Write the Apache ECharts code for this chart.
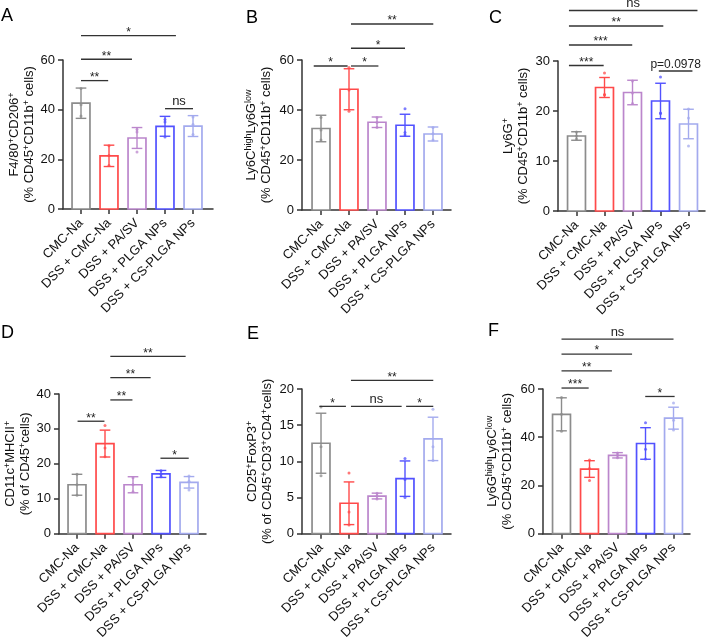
<!DOCTYPE html>
<html><head><meta charset="utf-8">
<script src="https://cdn.jsdelivr.net/npm/echarts@6/dist/echarts.min.js"></script>
<style>html,body{margin:0;padding:0;background:#fff}#c{width:708px;height:642px}</style>
</head><body><div id="c"></div>
<script>
// ---------- DATA ----------
const categories = ['CMC-Na', 'DSS + CMC-Na', 'DSS + PA/SV', 'DSS + PLGA NPs', 'DSS + CS-PLGA NPs'];
const groupColors = ['#8c8c8c', '#ff4a4a', '#bb86cc', '#5252ff', '#a3aaee'];

// Panel A
const meanA = [42.6, 21.4, 28.6, 33.3, 33.4];
const sdA   = [6.1, 4.3, 4.2, 4.0, 4.2];
const dotsA = [[48.5, 42, 37.5], [25.5, 21.5, 17.5], [32, 31, 23], [36, 35, 29], [37, 34, 30]];
const sigA  = [[0, 0.97, 51.7, '**'], [0, 1.82, 60.3, '**'], [0, 3.39, 69.8, '*'], [3.0, 4.0, 40.4, 'ns']];
const yTicksA = [0, 20, 40, 60];

// Panel B
const meanB = [32.6, 48.3, 35.1, 33.9, 30.4];
const sdB   = [5.3, 8.2, 2.1, 4.4, 2.8];
const dotsB = [[37, 32, 28], [57, 48, 39.5], [37, 35, 33], [40.5, 31, 30], [33, 30.5, 28]];
const sigB  = [[-0.26, 0.95, 57.6, '*'], [1.07, 2.05, 57.6, '*'], [1.07, 3.0, 64.7, '*'], [1.07, 4.01, 74.4, '**']];
const yTicksB = [0, 20, 40, 60];

// Panel C
const meanC = [15.0, 24.7, 23.7, 22.0, 17.4];
const sdC   = [0.85, 2.0, 2.45, 3.55, 2.95];
const dotsC = [[15.8, 15, 14.4], [27.6, 23.3, 23.2], [26, 23.6, 21.5], [26.8, 19.5, 19.6], [20.4, 18.6, 13]];
const sigC  = [[-0.27, 0.97, 29.1, '***'], [-0.27, 1.99, 33.2, '***'], [-0.27, 3.1, 37.0, '**'], [-0.27, 4.32, 40.1, 'ns'], [2.94, 4.14, 28.0, 'p=0.0978']];
const yTicksC = [0, 10, 20, 30];

// Panel D
const meanD = [14.0, 25.8, 14.0, 17.1, 14.7];
const sdD   = [3.0, 3.85, 2.3, 1.0, 1.65];
const dotsD = [[17, 14, 11], [31, 24.5, 22], [16, 14, 12], [18, 17, 16.3], [16.5, 15, 12.5]];
const sigD  = [[0.02, 0.98, 32.2, '**'], [1.19, 1.98, 38.3, '**'], [1.19, 2.63, 44.7, '**'], [1.19, 3.88, 50.8, '**'], [2.98, 3.99, 21.6, '*']];
const yTicksD = [0, 10, 20, 30, 40];

// Panel E
const meanE = [12.5, 4.2, 5.2, 7.6, 13.1];
const sdE   = [4.15, 2.95, 0.4, 2.45, 3.0];
const dotsE = [[17.5, 12, 8], [8.4, 3, 1.2], [5.6, 5.2, 4.8], [10.4, 7.5, 5], [17.2, 12, 10.1]];
const sigE  = [[-0.06, 0.89, 17.6, '*'], [1.07, 2.88, 17.6, 'ns'], [3.04, 4.01, 17.6, '*'], [1.07, 4.01, 21.2, '**']];
const yTicksE = [0, 5, 10, 15, 20];

// Panel F
const meanF = [49.5, 26.8, 32.5, 37.4, 47.9];
const sdF   = [6.85, 3.45, 1.1, 6.55, 4.55];
const dotsF = [[56.5, 49.5, 42.5], [30.5, 27, 22], [33.5, 32.5, 31.5], [46, 35, 31], [54.2, 47, 43]];
const sigF  = [[0, 0.97, 60.4, '***'], [0, 1.8, 67.5, '**'], [0, 2.52, 74.5, '*'], [0, 4.0, 80.7, 'ns'], [2.99, 4.04, 56.9, '*']];
const yTicksF = [0, 20, 40, 60];

const titles = {
  A: 'F4/80{s|+}CD206{s|+}\n(% CD45{s|+}CD11b{s|+} cells)',
  B: 'Ly6C{s|high}Ly6G{s|low}\n(% CD45{s|+}CD11b{s|+} cells)',
  C: 'Ly6G{s|+}\n(% CD45{s|+}CD11b{s|+} cells)',
  D: 'CD11c{s|+}MHCII{s|+}\n(% of CD45{s|+}cells)',
  E: 'CD25{s|+}FoxP3{s|+}\n(% of CD45{s|+}CD3{s|+}CD4{s|+}cells)',
  F: 'Ly6G{s|high}Ly6C{s|low}\n(% CD45{s|+}CD11b{s|+} cells)'
};

// ---------- LAYOUT ----------
const FONT = "'Liberation Sans', Arial, sans-serif";
const panels = [
  {key: 'A', mean: meanA, sd: sdA, dots: dotsA, sig: sigA, ticks: yTicksA, left: 63, top: 60, width: 150, height: 149, xmin: -0.643, xmax: 4.714, gap: 26, letter: [1, 7]},
  {key: 'B', mean: meanB, sd: sdB, dots: dotsB, sig: sigB, ticks: yTicksB, left: 302, top: 60, width: 149, height: 150, xmin: -0.679, xmax: 4.643, gap: 28, letter: [246, 9]},
  {key: 'C', mean: meanC, sd: sdC, dots: dotsC, sig: sigC, ticks: yTicksC, left: 558, top: 61, width: 147, height: 150, xmin: -0.661, xmax: 4.589, gap: 27, letter: [489, 9]},
  {key: 'D', mean: meanD, sd: sdD, dots: dotsD, sig: sigD, ticks: yTicksD, left: 59, top: 394, width: 147, height: 146, xmin: -0.643, xmax: 4.607, gap: 26, letter: [1, 324]},
  {key: 'E', mean: meanE, sd: sdE, dots: dotsE, sig: sigE, ticks: yTicksE, left: 302, top: 389, width: 149, height: 150, xmin: -0.679, xmax: 4.643, gap: 27, letter: [247, 325]},
  {key: 'F', mean: meanF, sd: sdF, dots: dotsF, sig: sigF, ticks: yTicksF, left: 543, top: 389, width: 147, height: 150, xmin: -0.661, xmax: 4.589, gap: 28, letter: [488, 322]}
];

const AXIS_COLOR = '#333';
const grid = [], xAxis = [], yAxis = [], series = [], graphic = [];

panels.forEach((p, k) => {
  grid.push({left: p.left, top: p.top, width: p.width, height: p.height, containLabel: false});
  xAxis.push({
    type: 'value', gridIndex: k, min: p.xmin, max: p.xmax,
    splitLine: {show: false},
    axisLine: {show: true, onZero: false, lineStyle: {color: AXIS_COLOR, width: 1.5}},
    axisTick: {show: true, length: 5, customValues: [0, 1, 2, 3, 4], lineStyle: {color: AXIS_COLOR, width: 1.5}},
    axisLabel: {
      show: true, rotate: 45, margin: 12, fontSize: 13, color: '#111', fontFamily: FONT,
      customValues: [0, 1, 2, 3, 4],
      formatter: v => categories[Math.round(v)]
    }
  });
  const t = p.ticks;
  yAxis.push({
    type: 'value', gridIndex: k, min: t[0], max: t[t.length - 1], interval: t[1] - t[0],
    splitLine: {show: false},
    axisLine: {show: true, onZero: false, lineStyle: {color: AXIS_COLOR, width: 1.5}},
    axisTick: {show: true, length: 5, lineStyle: {color: AXIS_COLOR, width: 1.5}},
    axisLabel: {margin: 8, fontSize: 13, color: '#111', fontFamily: FONT},
    name: titles[p.key], nameLocation: 'middle', nameRotate: 90, nameGap: p.gap,
    nameMoveOverlap: false,
    nameTextStyle: {
      fontSize: 13, color: '#111', fontFamily: FONT, lineHeight: 15,
      rich: {s: {fontSize: 9, lineHeight: 7, verticalAlign: 'top', color: '#111', fontFamily: FONT}}
    }
  });

  // bars + error bars
  series.push({
    type: 'custom', xAxisIndex: k, yAxisIndex: k, clip: false,
    data: p.mean.map((m, i) => [i, m, p.sd[i]]),
    encode: {x: 0, y: 1},
    renderItem: (params, api) => {
      const i = api.value(0), m = api.value(1), sd = api.value(2);
      const base = api.coord([i, 0]);
      const top = api.coord([i, m]);
      const hi = api.coord([i, m + sd]);
      const lo = api.coord([i, m - sd]);
      const band = api.size([1, 0])[0];
      const bw = band * 0.64, cw = band * 0.38;
      const col = groupColors[i];
      const ls = {stroke: col, lineWidth: 1.4};
      return {type: 'group', children: [
        {type: 'rect', shape: {x: base[0] - bw / 2, y: top[1], width: bw, height: base[1] - top[1]},
         style: {fill: '#fff', stroke: col, lineWidth: 1.7}},
        {type: 'line', shape: {x1: hi[0], y1: hi[1], x2: lo[0], y2: lo[1]}, style: ls},
        {type: 'line', shape: {x1: hi[0] - cw / 2, y1: hi[1], x2: hi[0] + cw / 2, y2: hi[1]}, style: ls},
        {type: 'line', shape: {x1: lo[0] - cw / 2, y1: lo[1], x2: lo[0] + cw / 2, y2: lo[1]}, style: ls}
      ]};
    }
  });

  // individual points
  const pts = [];
  p.dots.forEach((arr, i) => arr.forEach(v => pts.push([i, v])));
  series.push({
    type: 'scatter', xAxisIndex: k, yAxisIndex: k, symbolSize: 3, z: 5,
    data: pts,
    itemStyle: {color: prm => groupColors[prm.data[0]], opacity: 0.75}
  });

  // significance brackets
  const sig = p.sig;
  series.push({
    type: 'custom', xAxisIndex: k, yAxisIndex: k, clip: false, z: 6,
    data: sig.map(s => [s[0], s[1], s[2]]),
    encode: {x: [0, 1], y: 2},
    renderItem: (params, api) => {
      const a = api.coord([api.value(0), api.value(2)]);
      const b = api.coord([api.value(1), api.value(2)]);
      const label = sig[params.dataIndex][3];
      const isStar = label.indexOf('*') === 0;
      const isP = label.indexOf('p=') === 0;
      const dy = isStar ? -3 : (isP ? -6 : -7);
      return {type: 'group', children: [
        {type: 'line', shape: {x1: a[0], y1: a[1], x2: b[0], y2: b[1]}, style: {stroke: '#333', lineWidth: 1.3}},
        {type: 'text', x: (a[0] + b[0]) / 2, y: a[1] + dy,
         style: {text: label, fill: '#222', fontSize: isStar ? 12 : (isP ? 12 : 13), fontFamily: FONT, align: 'center', verticalAlign: 'middle'}}
      ]};
    }
  });

  graphic.push({type: 'text', left: p.letter[0], top: p.letter[1],
    style: {text: p.key, fontSize: 18, fontFamily: FONT, fill: '#000'}});
});

const chart = echarts.init(document.getElementById('c'), null, {renderer: 'canvas'});
chart.setOption({
  animation: false,
  backgroundColor: '#fff',
  grid, xAxis, yAxis, series, graphic
});
</script>
</body></html>
